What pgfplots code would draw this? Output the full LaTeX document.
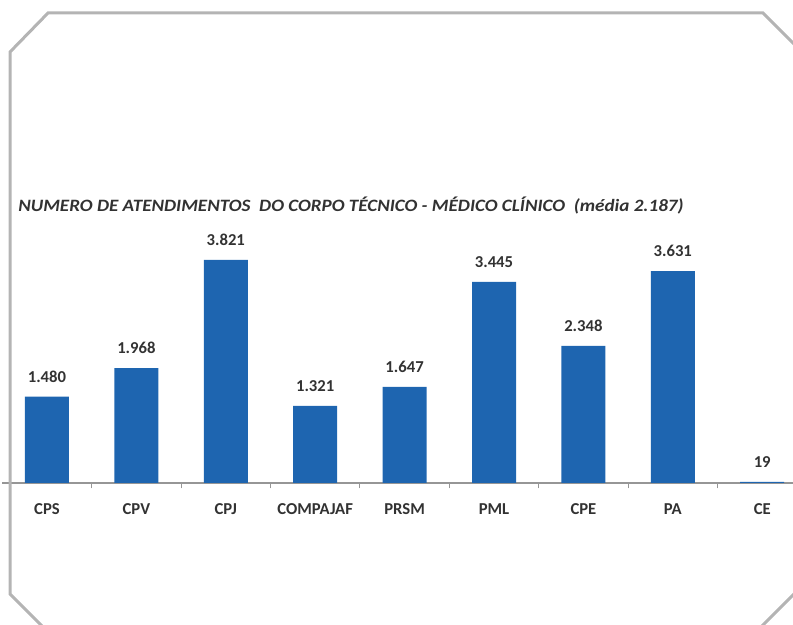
\documentclass[border=0pt]{standalone}
\usepackage{pgfplots}
\pgfplotsset{compat=1.18}
\usepackage{fontspec}
\setmainfont{Carlito}

\definecolor{barblue}{RGB}{30,101,176}
\definecolor{framegray}{RGB}{180,180,180}
\definecolor{txt}{RGB}{50,50,50}
\definecolor{axisgray}{RGB}{150,150,150}

\begin{document}
\begin{tikzpicture}[x=0.75pt,y=0.75pt]
  \path[use as bounding box] (0,0) rectangle (793,625);
  \begin{scope}
    \clip (0,0) rectangle (793,625);
    \begin{axis}[
        at={(1.7pt,106.5pt)}, anchor=south west,
        scale only axis,
        width=603.5pt, height=175.1pt,
        xmin=-0.5, xmax=8.5, ymin=0, ymax=4000,
        axis x line*=bottom, axis y line=none,
        x axis line style={draw=axisgray, line width=0.8pt, -},
        xtick={0,...,8},
        xticklabels={CPS,CPV,CPJ,COMPAJAF,PRSM,PML,CPE,PA,CE},
        major x tick style={draw=none},
        minor xtick={0.5,1.5,...,7.5},
        minor x tick style={draw=axisgray, line width=0.6pt},
        minor tick length=4pt,
        tick align=outside,
        xticklabel style={font=\fontsize{12.5}{14}\selectfont\bfseries,
                          text=txt, anchor=base, yshift=-19pt},
        ybar, bar width=33pt, bar shift=0pt,
        nodes near coords,
        point meta=explicit symbolic,
        every node near coord/.append style={
            font=\fontsize{12.5}{14}\selectfont\bfseries, text=txt,
            anchor=base, yshift=10.9pt},
      ]
      % atendimentos por unidade
      \addplot[fill=barblue, draw=none] coordinates {
        (0,1480) [1.480]
        (1,1968) [1.968]
        (2,3821) [3.821]
        (3,1321) [1.321]
        (4,1647) [1.647]
        (5,3445) [3.445]
        (6,2348) [2.348]
        (7,3631) [3.631]
        (8,19)   [19]
      };
    \end{axis}
  \end{scope}

  \node[anchor=base west, text=txt, inner sep=0pt,
        font=\fontsize{13}{15}\selectfont\bfseries\itshape]
    at (18,413.5)
    {\resizebox{499pt}{\height}{NUMERO DE ATENDIMENTOS\ \ DO CORPO TÉCNICO - MÉDICO CLÍNICO\ \ (média 2.187)}};

  % moldura
  \draw[framegray, line width=2.25pt, line join=miter]
    (10,31) -- (10,573) -- (48,612) -- (763,612) -- (800,575)
    -- (800,37) -- (760,-3) -- (44,-3) -- cycle;
\end{tikzpicture}
\end{document}
